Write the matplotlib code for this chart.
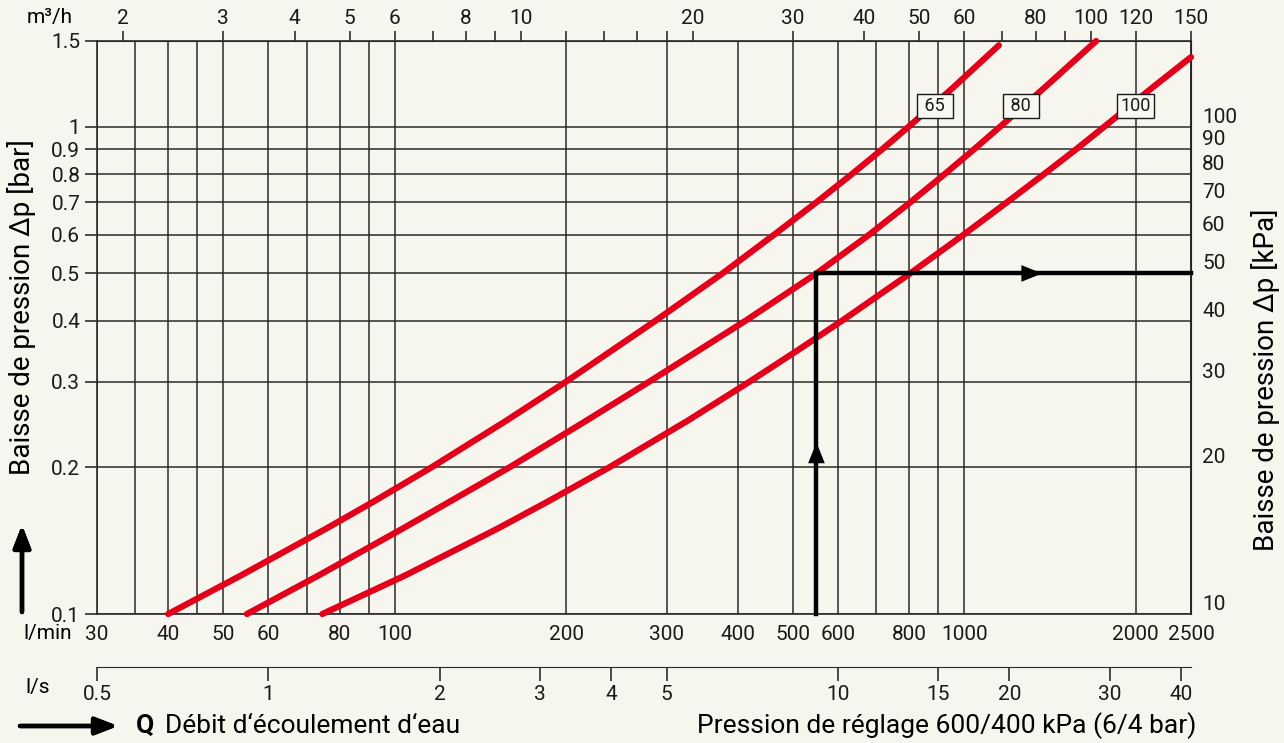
import matplotlib

matplotlib.use("Agg")

import matplotlib.pyplot as plt
from matplotlib.ticker import FixedLocator, FixedFormatter, NullLocator

# flow in l/min (bottom axis)
flow_grid = [30, 35, 40, 45, 50, 60, 70, 80, 90, 100, 200, 300, 400, 500,
             600, 700, 800, 900, 1000, 2000, 2500]
flow_labels = [30, 40, 50, 60, 80, 100, 200, 300, 400, 500, 600, 800, 1000, 2000, 2500]

# pressure drop in bar (left axis) and kPa (right axis)
dp_ticks = [0.1, 0.2, 0.3, 0.4, 0.5, 0.6, 0.7, 0.8, 0.9, 1, 1.5]
dp_labels = ["0.1", "0.2", "0.3", "0.4", "0.5", "0.6", "0.7", "0.8", "0.9", "1", "1.5"]
kpa_ticks = [10, 20, 30, 40, 50, 60, 70, 80, 90, 100]

# m3/h (top axis) and l/s (second bottom axis)
m3h_ticks = [2, 3, 4, 5, 6, 7, 8, 9, 10, 12, 14, 16, 18, 20, 30, 40, 50, 60,
             70, 80, 90, 100, 120, 150]
m3h_labeled = [2, 3, 4, 5, 6, 8, 10, 20, 30, 40, 50, 60, 80, 100, 120, 150]
ls_ticks = [0.5, 1, 2, 3, 4, 5, 10, 15, 20, 30, 40]

# valve curves (DN): flow l/min -> pressure drop bar
dn65_flow = [40, 53.7, 76, 91.7, 116, 157.5, 200, 287, 376, 463, 550, 635, 718,
             798, 953, 1150]
dn65_dp = [0.1, 0.12, 0.15, 0.17, 0.2, 0.25, 0.3, 0.4, 0.5, 0.6, 0.7, 0.8, 0.9,
           1.0, 1.2, 1.47]
dn80_flow = [55, 73.5, 103.5, 124.8, 159, 217.7, 280, 413, 550, 680, 804, 924,
             1041, 1155, 1379, 1704]
dn80_dp = [0.1, 0.12, 0.15, 0.17, 0.2, 0.25, 0.3, 0.4, 0.5, 0.6, 0.7, 0.8, 0.9,
           1.0, 1.2, 1.5]
dn100_flow = [74.6, 104.3, 152, 185.4, 238, 328, 420, 514, 610, 803, 996, 1188,
              1381, 1573, 1760, 2132, 2500]
dn100_dp = [0.1, 0.12, 0.15, 0.17, 0.2, 0.25, 0.3, 0.35, 0.4, 0.5, 0.6, 0.7,
            0.8, 0.9, 1.0, 1.2, 1.39]
curve_names = [" 65 ", " 80 ", "100"]
label_flow = [888, 1256, 2000]
label_dp = [1.103, 1.103, 1.103]

# reading example
example_flow = 550
example_dp = 0.5

BG = "#f6f5ee"
RED = "#e2001a"
GRID = "#2a2a2a"
TXT = "#1a1a1a"

plt.rcParams["font.family"] = ["Roboto", "DejaVu Sans"]
plt.rcParams["font.size"] = 15

fig = plt.figure(figsize=(12.84, 7.43), dpi=100, facecolor=BG)
ax = fig.add_axes([97 / 1284, 1 - 614 / 743, (1191 - 97) / 1284, (614 - 41) / 743])
ax.set_facecolor(BG)
ax.set_xscale("log")
ax.set_yscale("log")
ax.set_xlim(30, 2500)
ax.set_ylim(0.1, 1.5)

ax.xaxis.set_major_locator(FixedLocator(flow_grid))
ax.xaxis.set_major_formatter(FixedFormatter(
    [str(v) if v in flow_labels else "" for v in flow_grid]))
ax.xaxis.set_minor_locator(NullLocator())
ax.yaxis.set_major_locator(FixedLocator(dp_ticks))
ax.yaxis.set_major_formatter(FixedFormatter(dp_labels))
ax.yaxis.set_minor_locator(NullLocator())
ax.tick_params(axis="x", length=0, pad=8, labelsize=15, colors=TXT)
ax.tick_params(axis="y", length=9, width=1.1, pad=3, labelsize=15,
               colors=TXT, direction="out")
ax.grid(True, which="major", color=GRID, linewidth=1.1)
for spine in ax.spines.values():
    spine.set_color(GRID)
    spine.set_linewidth(1.2)

# top axis in m3/h
top = ax.secondary_xaxis("top", functions=(lambda q: q * 0.06, lambda m: m / 0.06))
top.xaxis.set_major_locator(FixedLocator(m3h_ticks))
top.xaxis.set_major_formatter(FixedFormatter(
    [str(v) if v in m3h_labeled else "" for v in m3h_ticks]))
top.xaxis.set_minor_locator(NullLocator())
top.tick_params(length=7, width=1.1, pad=2, labelsize=15, colors=TXT)
top.spines["top"].set_color(GRID)

# second bottom axis in l/s
ls_ax = ax.secondary_xaxis(-0.0925, functions=(lambda q: q / 60, lambda s: s * 60))
ls_ax.xaxis.set_major_locator(FixedLocator(ls_ticks))
ls_ax.xaxis.set_major_formatter(FixedFormatter([f"{v:g}" for v in ls_ticks]))
ls_ax.xaxis.set_minor_locator(NullLocator())
ls_ax.tick_params(length=10, width=1.1, pad=3, labelsize=15, colors=TXT)
ls_ax.spines["bottom"].set_color(GRID)

# right axis in kPa
right = ax.secondary_yaxis("right", functions=(lambda b: b * 100, lambda k: k / 100))
right.yaxis.set_major_locator(FixedLocator(kpa_ticks))
right.yaxis.set_major_formatter(FixedFormatter([str(v) for v in kpa_ticks]))
right.yaxis.set_minor_locator(NullLocator())
right.tick_params(length=0, pad=8, labelsize=15, colors=TXT)
for lab in right.get_yticklabels():
    lab.set_va("bottom")

# curves
for flow, dp in [(dn65_flow, dn65_dp), (dn80_flow, dn80_dp), (dn100_flow, dn100_dp)]:
    ax.plot(flow, dp, color=RED, linewidth=4.5, solid_capstyle="round",
            solid_joinstyle="round", clip_on=False, zorder=3)
for name, fx, fy in zip(curve_names, label_flow, label_dp):
    ax.text(fx, fy, name, ha="center", va="center", fontsize=13, zorder=5,
            color=TXT,
            bbox=dict(boxstyle="square,pad=0.18", facecolor="#f8f8f3",
                      edgecolor=TXT, linewidth=1.0))

# reading example
ax.plot([example_flow, example_flow, 2500], [0.1, example_dp, example_dp],
        color="black", linewidth=3.2, solid_joinstyle="miter", zorder=4,
        clip_on=False)
ax.annotate("", xy=(example_flow, 0.225), xytext=(example_flow, 0.2),
            arrowprops=dict(arrowstyle="-|>,head_length=1.0,head_width=0.4",
                            color="black", lw=0, shrinkA=0, shrinkB=0),
            zorder=5)
ax.annotate("", xy=(1370, example_dp), xytext=(1250, example_dp),
            arrowprops=dict(arrowstyle="-|>,head_length=1.0,head_width=0.4",
                            color="black", lw=0, shrinkA=0, shrinkB=0),
            zorder=5)

# axis captions
fig.text(50 / 1284, 1 - 18 / 743, "m³/h", ha="center", va="center", fontsize=15)
fig.text(48 / 1284, 1 - 634 / 743, "l/min", ha="center", va="center", fontsize=15)
fig.text(38 / 1284, 1 - 688 / 743, "l/s", ha="center", va="center", fontsize=15)
fig.text(22 / 1284, 1 - 307 / 743, "Baisse de pression Δp [bar]", rotation=90,
         ha="center", va="center", fontsize=20)
fig.text(1265 / 1284, 1 - 380 / 743, "Baisse de pression Δp [kPa]", rotation=90,
         ha="center", va="center", fontsize=20)
fig.text(136 / 1284, 1 - 726 / 743, "Q", ha="left", va="center", fontsize=19,
         fontweight="bold")
fig.text(165 / 1284, 1 - 726 / 743, "Débit d‘écoulement d‘eau", ha="left",
         va="center", fontsize=19)
fig.text(1196 / 1284, 1 - 726 / 743, "Pression de réglage 600/400 kPa (6/4 bar)",
         ha="right", va="center", fontsize=19)

# margin arrows
fig.add_artist(plt.annotate(
    "", xy=(22 / 1284, 1 - 525 / 743), xytext=(22 / 1284, 1 - 612 / 743),
    xycoords="figure fraction", textcoords="figure fraction",
    arrowprops=dict(arrowstyle="-|>,head_length=0.9,head_width=0.35",
                    color="black", lw=3.2, shrinkA=0, shrinkB=0)))
fig.add_artist(plt.annotate(
    "", xy=(118 / 1284, 1 - 726 / 743), xytext=(20 / 1284, 1 - 726 / 743),
    xycoords="figure fraction", textcoords="figure fraction",
    arrowprops=dict(arrowstyle="-|>,head_length=0.9,head_width=0.35",
                    color="black", lw=3.2, shrinkA=0, shrinkB=0)))

fig.savefig("out.png", dpi=100, facecolor=BG)
